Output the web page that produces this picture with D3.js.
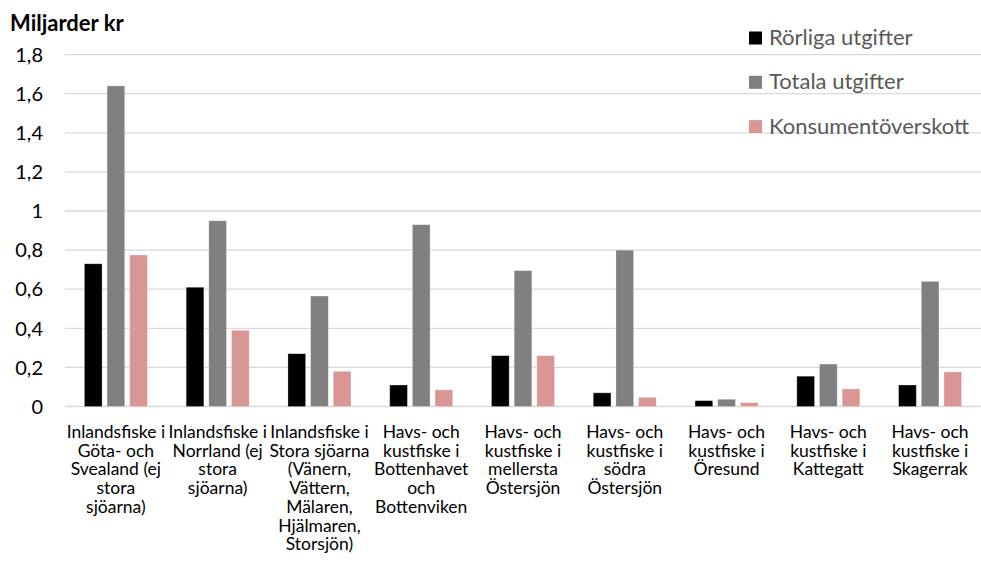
<html>
<head>
    <meta charset="utf-8">
    <style>
        body { margin: 0; background: #fff; }
        text { font-family: Lato, "Open Sans", sans-serif; }
    </style>
    <script src="https://cdn.jsdelivr.net/npm/d3@7"></script>
</head>
<body>
<script>

    var width = 981
    var height = 576

    // categories, one list of wrapped lines per group
    var categories = [
        ["Inlandsfiske i", "Göta- och", "Svealand (ej", "stora", "sjöarna)"],
        ["Inlandsfiske i", "Norrland (ej", "stora", "sjöarna)"],
        ["Inlandsfiske i", "Stora sjöarna", "(Vänern,", "Vättern,", "Mälaren,", "Hjälmaren,", "Storsjön)"],
        ["Havs- och", "kustfiske i", "Bottenhavet", "och", "Bottenviken"],
        ["Havs- och", "kustfiske i", "mellersta", "Östersjön"],
        ["Havs- och", "kustfiske i", "södra", "Östersjön"],
        ["Havs- och", "kustfiske i", "Öresund"],
        ["Havs- och", "kustfiske i", "Kattegatt"],
        ["Havs- och", "kustfiske i", "Skagerrak"]
    ]

    var seriesNames = ["Rörliga utgifter", "Totala utgifter", "Konsumentöverskott"]
    var seriesColors = ["#000000", "#808080", "#d99694"]

    var rorliga = [0.73, 0.61, 0.27, 0.11, 0.26, 0.07, 0.03, 0.155, 0.11]
    var totala = [1.64, 0.95, 0.565, 0.93, 0.695, 0.80, 0.037, 0.217, 0.64]
    var konsument = [0.775, 0.39, 0.18, 0.085, 0.26, 0.047, 0.02, 0.09, 0.177]

    var yTicks = [0, 0.2, 0.4, 0.6, 0.8, 1, 1.2, 1.4, 1.6, 1.8]

    var series = [rorliga, totala, konsument]

    // plot area (don't call these top/left: window.top is read-only)
    var pLeft = 65, pRight = 981, pTop = 54.6, pBottom = 406.5

    var svg = d3.select("body")
        .append("svg")
        .attr("width", width)
        .attr("height", height)

    var x0 = d3.scaleBand()
        .domain(d3.range(categories.length))
        .range([pLeft, pRight])
        .padding(0)

    var groupW = 63
    var x1 = d3.scaleBand()
        .domain(d3.range(seriesNames.length))
        .range([(x0.bandwidth() - groupW) / 2, (x0.bandwidth() + groupW) / 2])
        .paddingInner(0.22)
        .paddingOuter(0)

    var y = d3.scaleLinear()
        .domain([0, 1.8])
        .range([pBottom, pTop])

    var fmt = function (d) { return String(d).replace(".", ",") }

    // gridlines
    svg.append("g")
        .selectAll("line")
        .data(yTicks)
        .enter()
        .append("line")
        .attr("x1", pLeft)
        .attr("x2", pRight)
        .attr("y1", d => y(d))
        .attr("y2", d => y(d))
        .attr("stroke", "#d9d9d9")
        .attr("stroke-width", 1.3)

    // y tick labels
    svg.append("g")
        .selectAll("text")
        .data(yTicks)
        .enter()
        .append("text")
        .attr("x", 43)
        .attr("y", d => y(d))
        .attr("dy", "0.36em")
        .attr("text-anchor", "end")
        .attr("font-size", "20px")
        .attr("fill", "#000")
        .text(fmt)

    svg.append("text")
        .attr("x", 10)
        .attr("y", 30.5)
        .attr("font-size", "22px")
        .attr("font-weight", "bold")
        .text("Miljarder kr")

    // bars
    series.forEach(function (vals, s) {
        svg.append("g")
            .selectAll("rect")
            .data(vals)
            .enter()
            .append("rect")
            .attr("x", (d, i) => x0(i) + x1(s))
            .attr("width", x1.bandwidth())
            .attr("y", d => y(d))
            .attr("height", d => pBottom - y(d))
            .attr("fill", seriesColors[s])
            .attr("stroke", "rgba(255,255,255,0.35)")
            .attr("stroke-width", 0.8)
    })

    // category labels
    var lab = svg.append("g")
    categories.forEach(function (lines, i) {
        var t = lab.append("text")
            .attr("text-anchor", "middle")
            .attr("font-size", "17.5px")
            .attr("fill", "#000")
        lines.forEach(function (l, k) {
            t.append("tspan")
                .attr("x", x0(i) + x0.bandwidth() / 2)
                .attr("y", 438 + k * 18.7)
                .text(l)
        })
    })

    // legend
    var legend = svg.append("g")
    seriesNames.forEach(function (n, s) {
        var yy = 31.5 + s * 44.3
        legend.append("rect")
            .attr("x", 749)
            .attr("y", yy)
            .attr("width", 13)
            .attr("height", 13)
            .attr("fill", seriesColors[s])
        legend.append("text")
            .attr("x", 769)
            .attr("y", yy + 13.5)
            .attr("font-size", "22px")
            .attr("fill", "#595959")
            .text(n)
    })

</script>
</body>
</html>
